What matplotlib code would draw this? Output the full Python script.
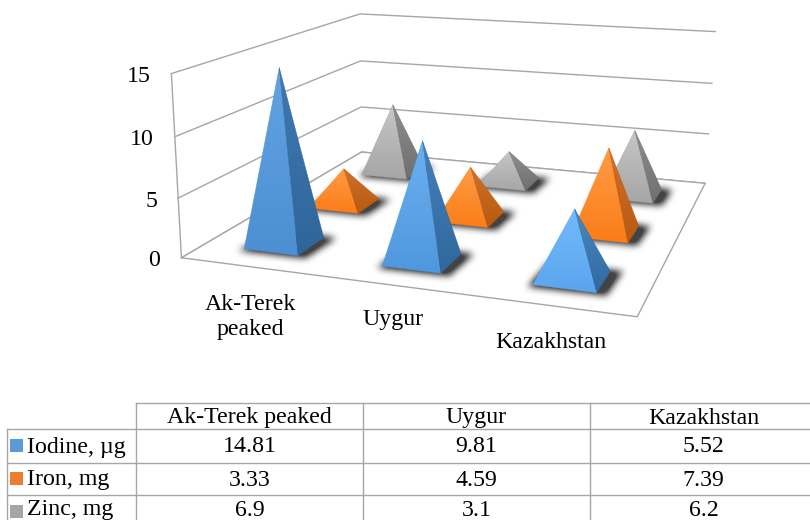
import numpy as np
import matplotlib
matplotlib.use("Agg")
import matplotlib.pyplot as plt
from matplotlib.patches import Polygon, Rectangle
from matplotlib.path import Path

plt.rcParams['font.family'] = ['Liberation Serif', 'DejaVu Serif']

categories = ['Ak-Terek peaked', 'Uygur', 'Kazakhstan']
axis_labels = ['Ak-Terek\npeaked', 'Uygur', 'Kazakhstan']
series = ['Iodine, µg', 'Iron, mg', 'Zinc, mg']
iodine = [14.81, 9.81, 5.52]
iron = [3.33, 4.59, 7.39]
zinc = [6.9, 3.1, 6.2]
iodine_text = ['14.81', '9.81', '5.52']
iron_text = ['3.33', '4.59', '7.39']
zinc_text = ['6.9', '3.1', '6.2']
z_ticks = [0, 5, 10, 15]

GRID = '#a6a6a6'
FS = 17.2
#(front top, front bottom, side top, side bottom) per category
iodine_shades = [('#62a3e2', '#4c8fd2', '#3f78b2', '#2f6699'),
                 ('#6bb0f0', '#4f97de', '#4480bb', '#30689c'),
                 ('#72bbfc', '#5aa5ee', '#4a88c2', '#31699f')]
iron_shades = [('#ff9c45', '#fb7d18', '#d0702a', '#b85a10')] * 3
zinc_shades = [('#c6c6c6', '#a6a6a6', '#8e8e8e', '#6f6f6f')] * 3
swatches = ['#5b9bd5', '#ed7d31', '#a5a5a5']

#Pixel positions of the chart box corners, used to calibrate the projection
box_world = np.array([[0, 0, 0], [3, 0, 0], [3, 3, 0], [0, 3, 0],
                      [0, 0, 5], [0, 0, 10], [0, 0, 15],
                      [0, 3, 5], [0, 3, 10], [0, 3, 15],
                      [3, 3, 5], [3, 3, 10], [3, 3, 15]], dtype=float)
box_pixel = np.array([[182, 258], [637, 317], [705, 183], [361, 152],
                      [178, 198], [175, 137], [171, 73],
                      [361, 107], [361, 61], [360, 14],
                      [709, 134], [712, 83], [715, 32]], dtype=float)


def fit_camera(world, pixel):
    A, b = [], []
    for (X, Y, Z), (u, v) in zip(world, pixel):
        A.append([X, Y, Z, 1, 0, 0, 0, 0, -u*X, -u*Y, -u*Z])
        A.append([0, 0, 0, 0, X, Y, Z, 1, -v*X, -v*Y, -v*Z])
        b += [u, v]
    p = np.linalg.lstsq(np.array(A), np.array(b), rcond=None)[0]
    return np.append(p, 1).reshape(3, 4)


cam = fit_camera(box_world, box_pixel)


def project(x, y, z):
    q = cam @ np.array([x, y, z, 1.0])
    return q[:2] / q[2]


def gradient_face(ax, pts, top, bottom):
    #Vertical colour ramp clipped to the face outline
    pts = np.array(pts)
    c0 = np.array(matplotlib.colors.to_rgb(top))
    c1 = np.array(matplotlib.colors.to_rgb(bottom))
    ramp = np.linspace(0, 1, 64)[:, None, None]
    img = (1 - ramp) * c0[None, None, :] + ramp * c1[None, None, :]
    extent = (pts[:, 0].min(), pts[:, 0].max(), pts[:, 1].max(), pts[:, 1].min())
    im = ax.imshow(img, extent=extent, aspect='auto', origin='upper',
                   interpolation='bilinear', zorder=3)
    im.set_clip_path(Polygon(pts, closed=True, transform=ax.transData))
    ax.add_patch(Polygon(pts, closed=True, fc='none', ec=bottom, lw=0.3, zorder=3))


def soft_shadow(ax, base, radius=3, strength=0.85):
    #Box blurred polygon mask, three passes come close to a gaussian
    pad = 3 * radius + 2
    x0, x1 = int(base[:, 0].min()) - pad, int(base[:, 0].max()) + pad
    y0, y1 = int(base[:, 1].min()) - pad, int(base[:, 1].max()) + pad
    xx, yy = np.meshgrid(np.arange(x0, x1) + 0.5, np.arange(y0, y1) + 0.5)
    mask = Path(base).contains_points(np.c_[xx.ravel(), yy.ravel()]).reshape(xx.shape).astype(float)
    kernel = np.ones(2 * radius + 1) / (2 * radius + 1)
    for _ in range(3):
        mask = np.apply_along_axis(lambda r: np.convolve(r, kernel, mode='same'), 0, mask)
        mask = np.apply_along_axis(lambda r: np.convolve(r, kernel, mode='same'), 1, mask)
    rgba = np.zeros(mask.shape + (4,))
    rgba[..., :3] = 0.13
    rgba[..., 3] = np.clip(mask * strength * 1.3, 0, strength)
    ax.imshow(rgba, extent=(x0, x1, y1, y0), aspect='auto', origin='upper',
              interpolation='bilinear', zorder=3)


def pyramid(ax, cat, row, value, colors, half=0.2):
    x, y = cat + 0.5, row + 0.5
    fl = project(x - half, y - half, 0)
    fr = project(x + half, y - half, 0)
    br = project(x + half, y + half, 0)
    bl = project(x - half, y + half, 0)
    apex = project(x, y, value)
    #Shadow is a little wider than the base and pushed to the right
    base = np.array([fl, fr, br, bl])
    centre = base.mean(axis=0)
    soft_shadow(ax, centre + (base - centre) * np.array([1.22, 1.12]) + np.array([4, 1]))
    gradient_face(ax, [fl, fr, apex], colors[0], colors[1])
    gradient_face(ax, [fr, br, apex], colors[2], colors[3])


fig = plt.figure(figsize=(8.1, 5.2), dpi=100)
ax = fig.add_axes([0, 0, 1, 1])

#Gridlines on the left and back walls
for z in z_ticks:
    pts = np.array([project(0, 0, z), project(0, 3, z), project(3, 3, z)])
    ax.plot(pts[:, 0], pts[:, 1], color=GRID, lw=1, zorder=1)
    u, v = project(0, 0, z)
    ax.text(u - 21, v + 3, str(z), ha='right', va='center', fontsize=FS, color='black')
edge = np.array([project(0, 0, 0), project(0, 0, 15)])
ax.plot(edge[:, 0], edge[:, 1], color=GRID, lw=1, zorder=1)
floor = np.array([project(0, 0, 0), project(3, 0, 0), project(3, 3, 0), project(0, 3, 0)])
ax.add_patch(Polygon(floor, closed=True, fc='white', ec=GRID, lw=1, zorder=2))

#Back row first so nearer pyramids cover it
values = [iodine, iron, zinc]
colours = [iodine_shades, iron_shades, zinc_shades]
for row in [2, 1, 0]:
    for cat in range(3):
        pyramid(ax, cat, row, values[row][cat], colours[row][cat])

#Category labels under the front edge
label_pos = [(250, 317), (393, 319), (551, 343)]
for lab, (u, v) in zip(axis_labels, label_pos):
    ax.text(u, v, lab, ha='center', va='center', fontsize=FS, linespacing=1.2, color='black')

#Data table, the last column runs past the right edge of the figure
col_x = [136, 363, 590, 817]
row_y = [403, 429, 463, 495]
for y in row_y:
    ax.plot([136 if y == 403 else 7, 810], [y, y], color=GRID, lw=1, zorder=1)
for x in col_x:
    ax.plot([x, x], [403, 520], color=GRID, lw=1, zorder=1)
ax.plot([7, 7], [429, 520], color=GRID, lw=1, zorder=1)

for i, name in enumerate(categories):
    ax.text((col_x[i] + col_x[i + 1]) / 2, 418, name, ha='center', va='center', fontsize=FS)
cells = [iodine_text, iron_text, zinc_text]
row_mid = [447, 480, 510]
swatch_top = [439, 472, 505]
for r, name in enumerate(series):
    ax.add_patch(Rectangle((10, swatch_top[r]), 13, 13, fc=swatches[r], ec='none', zorder=2))
    ax.text(27, row_mid[r], name, ha='left', va='center', fontsize=FS)
    for c in range(3):
        ax.text((col_x[c] + col_x[c + 1]) / 2, row_mid[r], cells[r][c], ha='center',
                va='center', fontsize=FS)

ax.set_xlim(0, 810)
ax.set_ylim(520, 0)
ax.axis('off')
fig.savefig('out.png', dpi=100)
